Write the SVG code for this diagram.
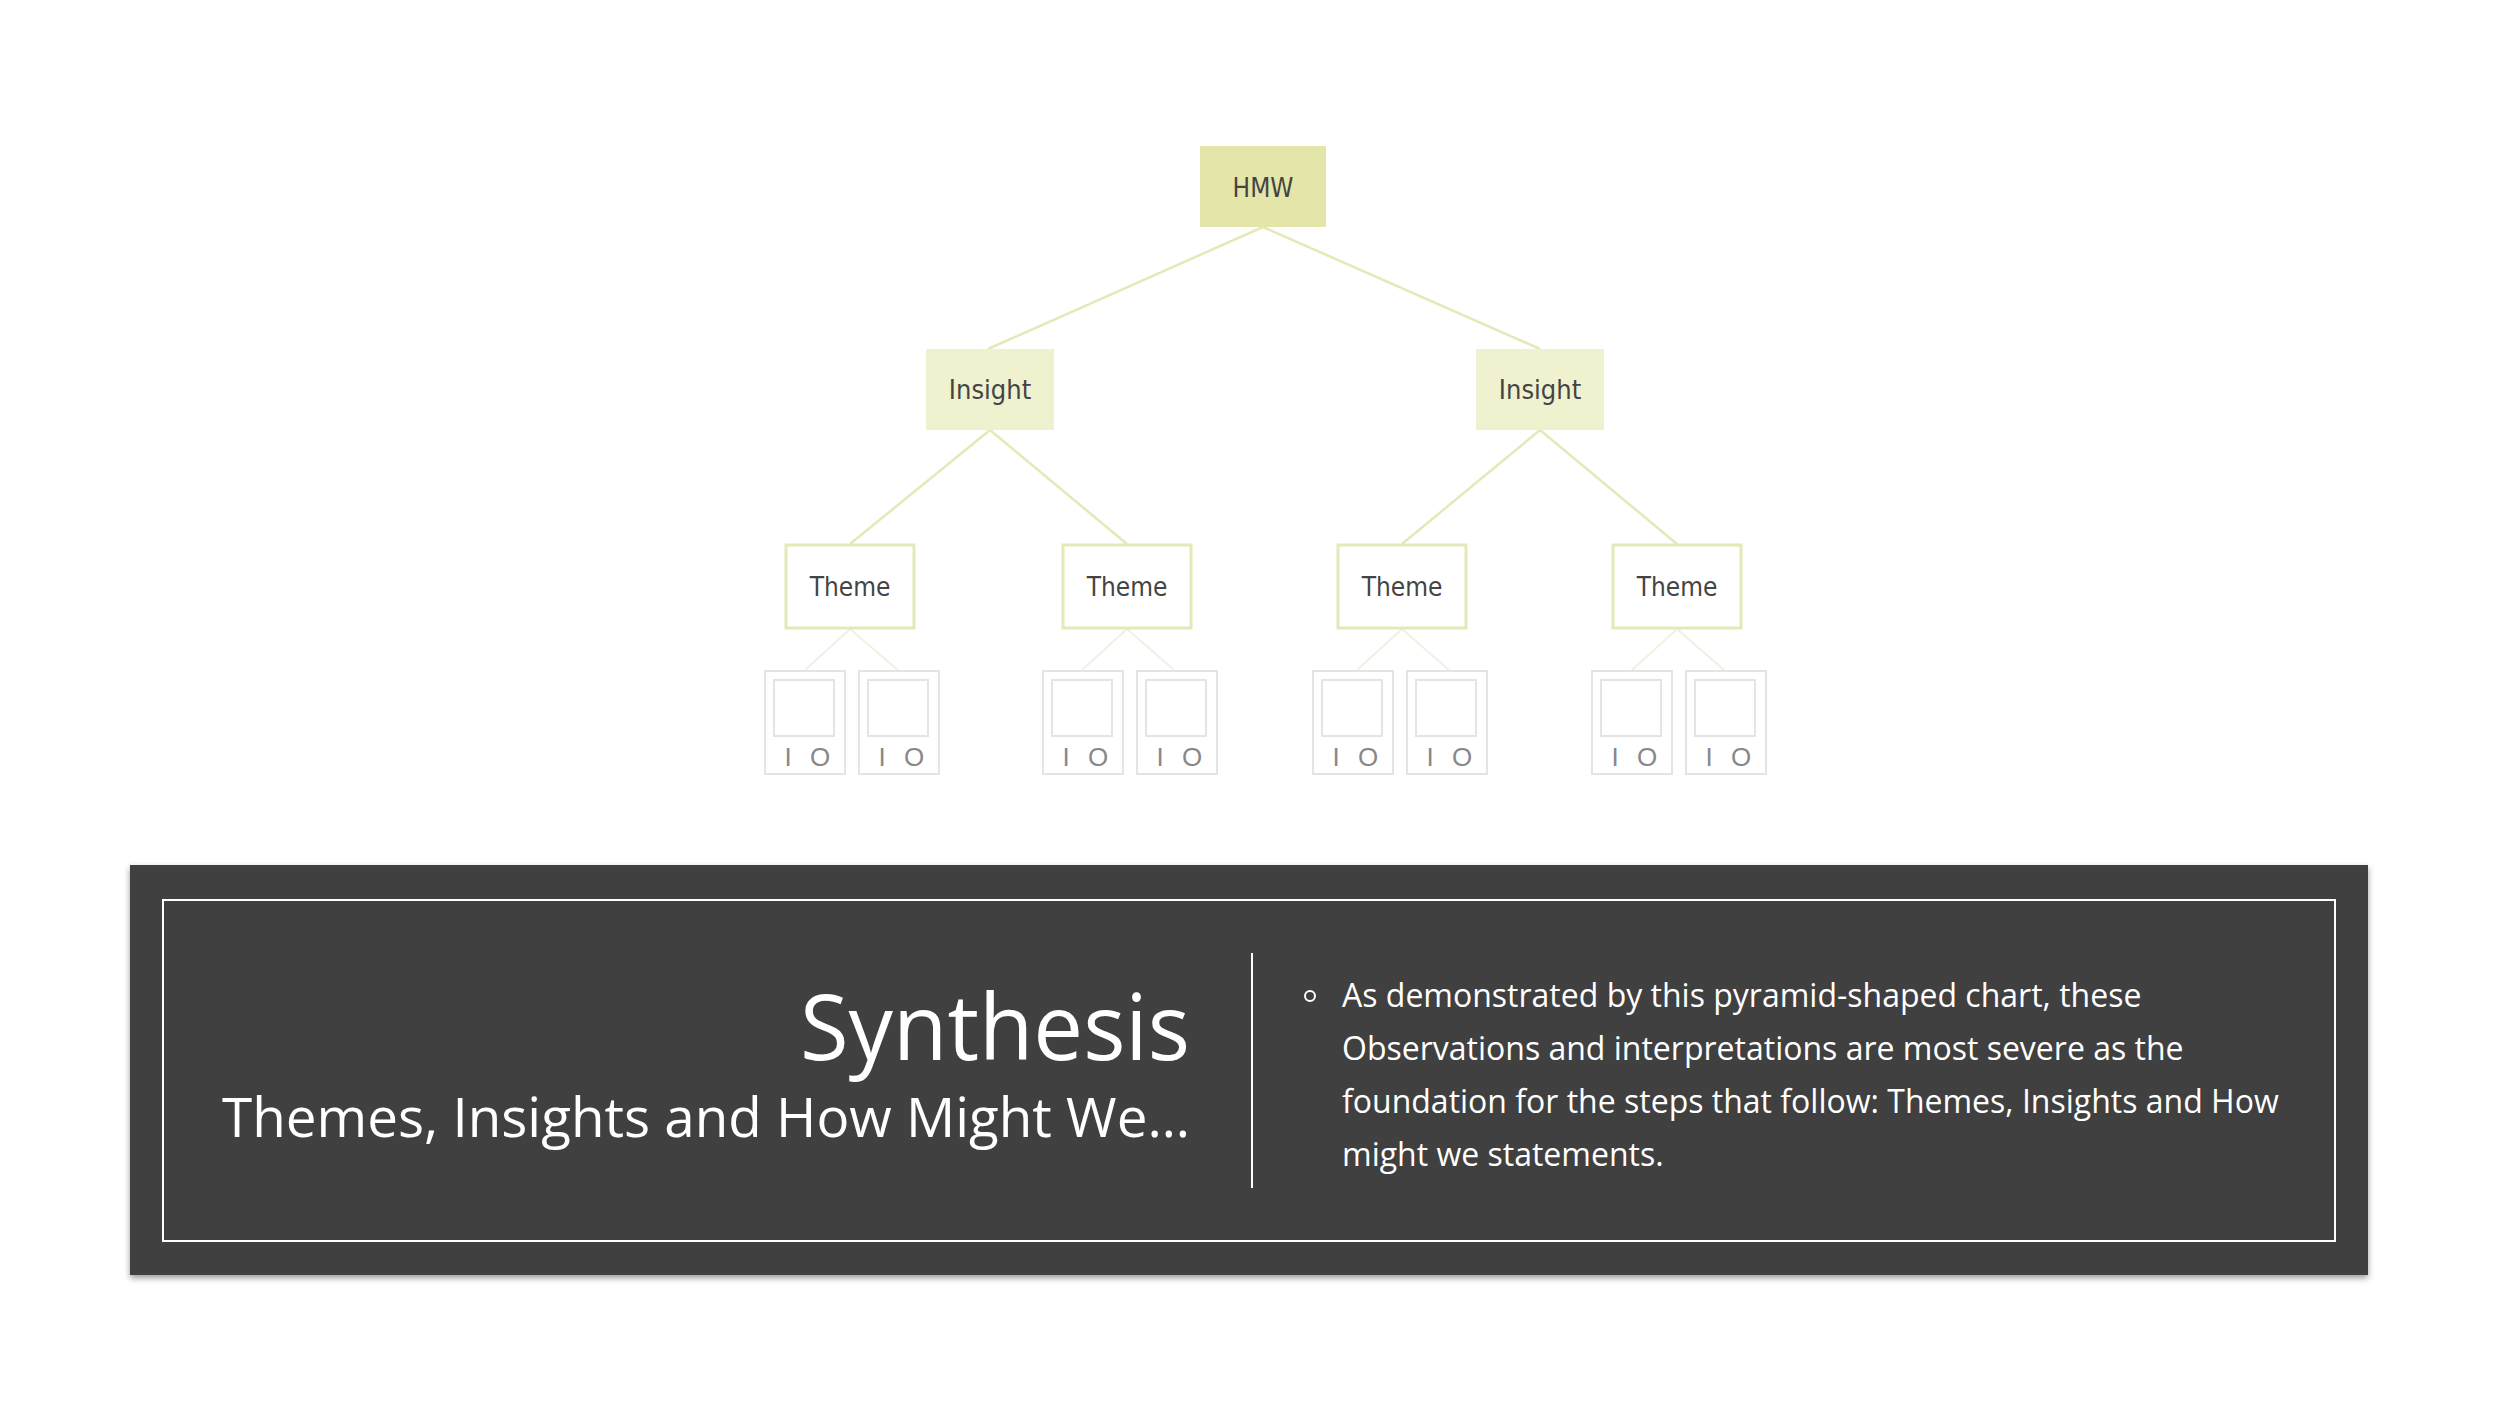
<svg xmlns="http://www.w3.org/2000/svg" width="2500" height="1406" viewBox="0 0 2500 1406">
<defs>
<style>
.ln{stroke:#e6e8b8;stroke-width:2.5;fill:none}
.ln2{stroke:#f0f0e4;stroke-width:2;fill:none}
.hmw{fill:#e4e5a8}
.ins{fill:#eff1cf}
.th{fill:#fff;stroke:#e6e8b8;stroke-width:3}
.card{fill:#fff;stroke:#e4e4e4;stroke-width:2}
.t{font-family:"DejaVu Sans Condensed","Liberation Sans",sans-serif;text-anchor:middle;fill:#444}
.io{font-family:"Liberation Sans",sans-serif;font-size:26px;fill:#888;text-anchor:middle}
.w{font-family:"Open Sans","Liberation Sans",sans-serif;fill:#fff}
</style>
<filter id="sh" x="-5%" y="-5%" width="110%" height="115%"><feDropShadow dx="0" dy="3" stdDeviation="3" flood-opacity="0.4"/></filter>
</defs>
<rect width="2500" height="1406" fill="#fff"/>
<g id="connectors">
<path class="ln" d="M1263 227L988 349M1263 227L1540 349M990 430L850 544M990 430L1127 544M1540 430L1402 544M1540 430L1677 544"/>
<path class="ln2" d="M850 629L805 670M850 629L898 670M1127 629L1082 670M1127 629L1174 670M1402 629L1357 670M1402 629L1449 670M1677 629L1632 670M1677 629L1724 670"/>
</g>
<g id="hmw"><rect class="hmw" x="1200" y="146" width="126" height="81"/><text class="t" x="1263" y="197" font-size="26">HMW</text></g>
<g id="insight1"><rect class="ins" x="926" y="349" width="128" height="81"/><text class="t" x="990" y="399" font-size="27">Insight</text></g>
<g id="insight2"><rect class="ins" x="1476" y="349" width="128" height="81"/><text class="t" x="1540" y="399" font-size="27">Insight</text></g>
<g id="theme1"><rect class="th" x="786" y="545" width="128" height="83"/><text class="t" x="850" y="596" font-size="26">Theme</text></g>
<g id="theme2"><rect class="th" x="1063" y="545" width="128" height="83"/><text class="t" x="1127" y="596" font-size="26">Theme</text></g>
<g id="theme3"><rect class="th" x="1338" y="545" width="128" height="83"/><text class="t" x="1402" y="596" font-size="26">Theme</text></g>
<g id="theme4"><rect class="th" x="1613" y="545" width="128" height="83"/><text class="t" x="1677" y="596" font-size="26">Theme</text></g>
<g id="cards">
<g id="c1"><rect class="card" x="765" y="671" width="80" height="103"/><rect class="card" x="774" y="680" width="60" height="56"/><text class="io" x="788" y="766">I</text><text class="io" x="820" y="766">O</text></g>
<g id="c2"><rect class="card" x="859" y="671" width="80" height="103"/><rect class="card" x="868" y="680" width="60" height="56"/><text class="io" x="882" y="766">I</text><text class="io" x="914" y="766">O</text></g>
<g id="c3"><rect class="card" x="1043" y="671" width="80" height="103"/><rect class="card" x="1052" y="680" width="60" height="56"/><text class="io" x="1066" y="766">I</text><text class="io" x="1098" y="766">O</text></g>
<g id="c4"><rect class="card" x="1137" y="671" width="80" height="103"/><rect class="card" x="1146" y="680" width="60" height="56"/><text class="io" x="1160" y="766">I</text><text class="io" x="1192" y="766">O</text></g>
<g id="c5"><rect class="card" x="1313" y="671" width="80" height="103"/><rect class="card" x="1322" y="680" width="60" height="56"/><text class="io" x="1336" y="766">I</text><text class="io" x="1368" y="766">O</text></g>
<g id="c6"><rect class="card" x="1407" y="671" width="80" height="103"/><rect class="card" x="1416" y="680" width="60" height="56"/><text class="io" x="1430" y="766">I</text><text class="io" x="1462" y="766">O</text></g>
<g id="c7"><rect class="card" x="1592" y="671" width="80" height="103"/><rect class="card" x="1601" y="680" width="60" height="56"/><text class="io" x="1615" y="766">I</text><text class="io" x="1647" y="766">O</text></g>
<g id="c8"><rect class="card" x="1686" y="671" width="80" height="103"/><rect class="card" x="1695" y="680" width="60" height="56"/><text class="io" x="1709" y="766">I</text><text class="io" x="1741" y="766">O</text></g>
</g>
<g id="panel">
<rect x="130" y="865" width="2238" height="410" fill="#404040" filter="url(#sh)"/>
<rect x="163" y="900" width="2172" height="341" fill="none" stroke="#fff" stroke-width="2"/>
<line x1="1252" y1="953" x2="1252" y2="1188" stroke="#fff" stroke-width="2"/>
<text class="w" x="1190" y="1060" font-size="92" text-anchor="end" textLength="390" lengthAdjust="spacingAndGlyphs">Synthesis</text>
<text class="w" x="1190" y="1137" font-size="54" text-anchor="end" textLength="968" lengthAdjust="spacingAndGlyphs">Themes, Insights and How Might We…</text>
<circle cx="1310" cy="996" r="5" fill="none" stroke="#fff" stroke-width="2"/>
<g class="w" font-size="32">
<text x="1342" y="1007">As demonstrated by this pyramid-shaped chart, these</text>
<text x="1342" y="1060">Observations and interpretations are most severe as the</text>
<text x="1342" y="1113">foundation for the steps that follow: Themes, Insights and How</text>
<text x="1342" y="1166">might we statements.</text>
</g>
</g>
</svg>
